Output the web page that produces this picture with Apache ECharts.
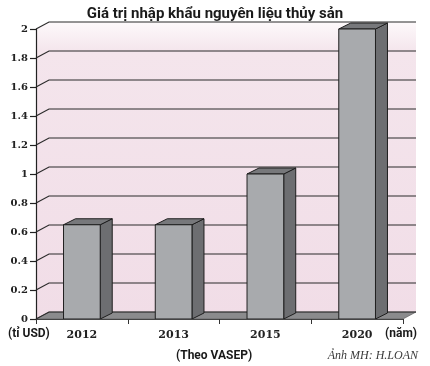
<!DOCTYPE html>
<html>
<head>
<meta charset="utf-8">
<script src="https://cdn.jsdelivr.net/npm/echarts@6/dist/echarts.min.js"></script>
<style>
html,body{margin:0;padding:0;background:#fff;}
#chart{width:430px;height:366px;}
</style>
</head>
<body>
<div id="chart"></div>
<script>
// ---- data ----
const titleText = 'Giá trị nhập khẩu nguyên liệu thủy sản';
const years = ['2012', '2013', '2015', '2020'];
const importValues = [0.65, 0.65, 1.0, 2.0];   // tỉ USD
const yTicks = [0, 0.2, 0.4, 0.6, 0.8, 1, 1.2, 1.4, 1.6, 1.8, 2];
const yUnit = '(tỉ USD)';
const xUnit = '(năm)';
const sourceText = '(Theo VASEP)';
const creditText = 'Ảnh MH: H.LOAN';

// ---- styling ----
const WALL_DX = 13, WALL_DY = -7;
const BAR_DX = 12, BAR_DY = -6;
const narrow = "'Liberation Sans Narrow', 'Roboto', sans-serif";

const chart = echarts.init(document.getElementById('chart'), null, {renderer: 'canvas'});

function renderFrame(params, api) {
  const cs = params.coordSys;
  const L = cs.x, R = cs.x + cs.width;
  const B = api.coord([0, yTicks[0]])[1];
  const T = api.coord([0, yTicks[yTicks.length - 1]])[1];
  const children = [];
  children.push({
    type: 'polygon',
    shape: {points: [[L, B], [L, T], [L + WALL_DX, T + WALL_DY], [R + WALL_DX, T + WALL_DY], [R + WALL_DX, B + WALL_DY], [R, B]]},
    style: {
      fill: new echarts.graphic.LinearGradient(0, 0, 0, 1, [
        {offset: 0, color: '#fdf9fb'},
        {offset: 0.1, color: '#f4e5ec'},
        {offset: 1, color: '#f1dde7'}
      ]),
      stroke: null
    }
  });
  children.push({
    type: 'polygon',
    shape: {points: [[L, B], [L + WALL_DX, B + WALL_DY], [R + WALL_DX, B + WALL_DY], [R, B]]},
    style: {fill: '#8b8b8d', stroke: '#555', lineWidth: 0.6}
  });
  yTicks.forEach(function (v) {
    const y = api.coord([0, v])[1];
    children.push({
      type: 'polyline',
      shape: {points: [[L, y], [L + WALL_DX, y + WALL_DY], [R + WALL_DX, y + WALL_DY]]},
      style: {stroke: '#2b2b2b', lineWidth: 1.2, fill: null}
    });
  });
  return {type: 'group', children: children};
}

function renderBar(params, api) {
  const idx = api.value(0);
  const v = api.value(1);
  const top = api.coord([idx, v]);
  const base = api.coord([idx, 0]);
  const band = api.size([1, 0])[0];
  const w = band * 0.4;
  const x0 = top[0] - w / 2, x1 = top[0] + w / 2;
  const yt = top[1], yb = base[1];
  const stroke = '#1f1f1f';
  return {
    type: 'group',
    children: [
      {type: 'polygon', shape: {points: [[x1, yt], [x1 + BAR_DX, yt + BAR_DY], [x1 + BAR_DX, yb + BAR_DY], [x1, yb]]},
        style: {fill: '#6d6e71', stroke: stroke, lineWidth: 1}},
      {type: 'polygon', shape: {points: [[x0, yt], [x1, yt], [x1 + BAR_DX, yt + BAR_DY], [x0 + BAR_DX, yt + BAR_DY]]},
        style: {fill: '#77787b', stroke: stroke, lineWidth: 1}},
      {type: 'rect', shape: {x: x0, y: yt, width: w, height: yb - yt},
        style: {fill: '#a8aaad', stroke: stroke, lineWidth: 1}}
    ]
  };
}

const option = {
  animation: false,
  backgroundColor: '#ffffff',
  title: {
    text: titleText,
    left: 'center',
    top: 2,
    textStyle: {fontFamily: narrow, fontWeight: 'bold', fontSize: 15, color: '#1a1a1a'}
  },
  grid: {left: 36, right: 27, top: 29, bottom: 47},
  xAxis: {
    type: 'category',
    data: years,
    z: 10,
    axisLine: {show: true, lineStyle: {color: '#444', width: 1}},
    axisTick: {show: true, length: 5, lineStyle: {color: '#333'}},
    axisLabel: {fontFamily: "'DejaVu Serif', serif", fontWeight: 'bold', fontSize: 11, color: '#222', margin: 11},
    splitLine: {show: false}
  },
  yAxis: {
    type: 'value',
    min: yTicks[0],
    max: yTicks[yTicks.length - 1],
    interval: 0.2,
    z: 10,
    axisLine: {show: true, lineStyle: {color: '#222', width: 1.2}},
    axisTick: {show: true, length: 6, lineStyle: {color: '#222', width: 1.2}},
    axisLabel: {fontFamily: "'DejaVu Serif', serif", fontWeight: 'bold', fontSize: 10, color: '#222', margin: 8},
    splitLine: {show: false}
  },
  series: [
    {
      type: 'custom',
      name: 'frame',
      z: 1,
      silent: true,
      renderItem: renderFrame,
      data: [[0, 0]],
      encode: {x: 0, y: 1}
    },
    {
      type: 'custom',
      name: 'Giá trị nhập khẩu',
      z: 3,
      renderItem: renderBar,
      data: years.map(function (y, i) { return [i, importValues[i]]; }),
      encode: {x: 0, y: 1}
    }
  ],
  graphic: [
    {type: 'text', left: 8, top: 328, style: {text: yUnit, font: "bold 12px " + narrow, fill: '#1a1a1a'}},
    {type: 'text', right: 13, top: 328, style: {text: xUnit, font: "bold 12px " + narrow, fill: '#1a1a1a'}},
    {type: 'text', left: 176, top: 350, style: {text: sourceText, font: "bold 12px " + narrow, fill: '#1a1a1a'}},
    {type: 'text', right: 12, top: 350, style: {text: creditText, font: "italic 12px 'Liberation Serif', serif", fill: '#3a3a3a'}}
  ]
};
chart.setOption(option);
</script>
</body>
</html>
